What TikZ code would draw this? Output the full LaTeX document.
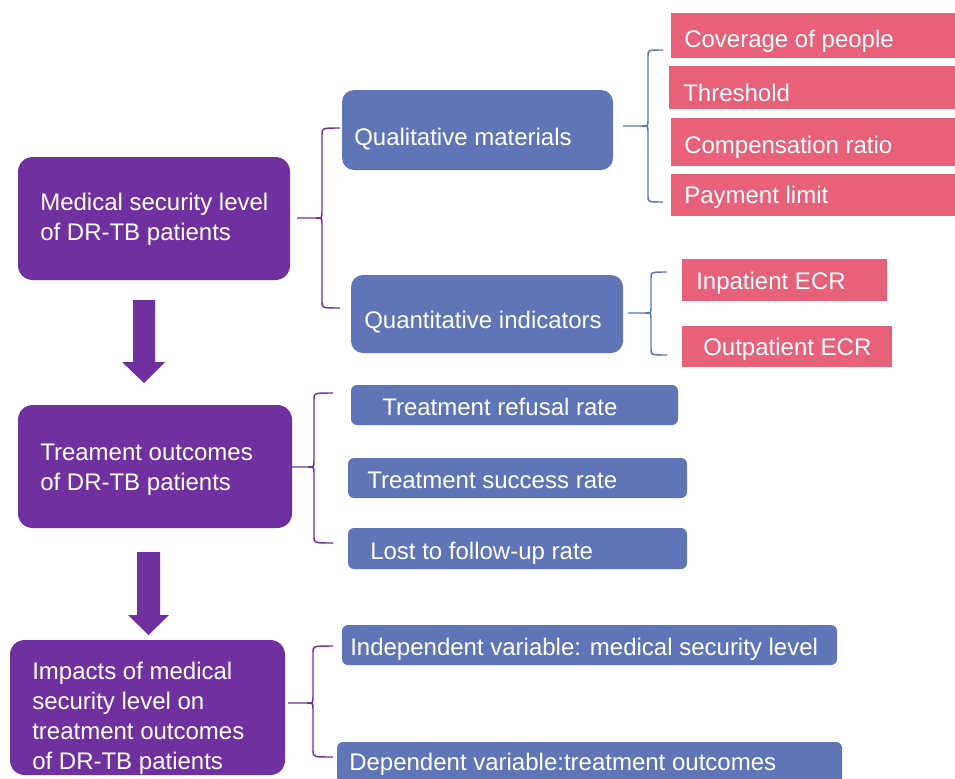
\documentclass[tikz,border=0pt]{standalone}
\usepackage{fontspec}
\setmainfont{Liberation Sans}
\usetikzlibrary{fit}
\definecolor{pur}{HTML}{7030A0}
\definecolor{blu}{HTML}{5F75B7}
\definecolor{red}{HTML}{E9607A}
\tikzset{
  pbox/.style={fill=pur, rounded corners=11pt, inner sep=0pt},
  bboxbig/.style={fill=blu, rounded corners=9pt, inner sep=0pt},
  bboxs/.style={fill=blu, rounded corners=4.5pt, inner sep=0pt},
  rbox/.style={fill=red, inner sep=0pt},
  txt/.style={anchor=west, align=left, inner sep=0pt, text=white, yshift=-1.5pt,
    font=\fontsize{18}{22.5}\selectfont},
  pline/.style={draw=pur, line width=1.1pt},
  bline/.style={draw=blu, line width=1.1pt},
}
\newcommand\bx[6]{\path (#3,#4) coordinate (#1-a) (#5,#6) coordinate (#1-b);
  \node[#2, fit=(#1-a)(#1-b)] (#1) {};}
% brace: style, stem x, vertical x, top, mid, bottom, hook x
\newcommand\brc[7]{%
  \draw[#1] (#2,#5) -- (#3-6,#5) .. controls (#3,#5) .. (#3,#5-6) -- (#3,#4+6) .. controls (#3,#4) .. (#7,#4);
  \draw[#1] (#3-6,#5) .. controls (#3,#5) .. (#3,#5+6) -- (#3,#6-6) .. controls (#3,#6) .. (#7,#6);}
\begin{document}
\begin{tikzpicture}[x=0.75pt,y=-0.75pt]
\clip (0,0) rectangle (955,778);
\fill[white] (0,0) rectangle (955,778);
% purple boxes
\bx{p1}{pbox}{18}{157}{290}{280}
\bx{p2}{pbox}{18}{405}{292}{528}
\bx{p3}{pbox}{10}{640}{285}{775}
\node[txt] (p1t) at (40,217) {Medical security level\\of DR-TB patients};
\node[txt] (p2t) at (40,468) {Treament outcomes\\of DR-TB patients};
\node[txt] (p3t) at (32,716) {Impacts of medical\\security level on\\treatment outcomes\\of DR-TB patients};
% arrows
\fill[pur] (133,300) -- (155,300) -- (155,362) -- (165,362) -- (144,383) -- (122,362) -- (133,362) -- cycle;
\fill[pur] (137,552) -- (160,552) -- (160,615) -- (169,615) -- (148.5,635) -- (128,615) -- (137,615) -- cycle;
% blue boxes
\bx{qual}{bboxbig}{342}{90}{613}{170}
\bx{quant}{bboxbig}{351}{275}{623}{353}
\bx{refu}{bboxs}{351}{385}{678}{425}
\bx{succ}{bboxs}{348}{458}{687}{498}
\bx{lost}{bboxs}{348}{528}{687}{569}
\bx{indep}{bboxs}{342}{625}{837}{665}
\bx{dep}{bboxs}{337}{742}{842}{795}
\node[txt] (qualt) at (354,137) {Qualitative materials};
\node[txt] (quantt) at (364,320) {Quantitative indicators};
\node[txt] (refut) at (382,405) {Treatment refusal rate};
\node[txt] (succt) at (367,478) {Treatment success rate};
\node[txt] (lostt) at (370,551) {Lost to follow-up rate};
\node[txt] (indept) at (350,647) {Independent variable: medical security level};
\node[txt] (dept) at (349,762) {Dependent variable:treatment outcomes};
% red boxes
\bx{cov}{rbox}{671}{13}{965}{58}
\bx{thr}{rbox}{669}{66}{965}{109}
\bx{comp}{rbox}{671}{118}{965}{166}
\bx{pay}{rbox}{671}{174}{965}{216}
\bx{inp}{rbox}{682}{259}{887}{301}
\bx{outp}{rbox}{682}{326}{892}{367}
\node[txt] (covt) at (684,39) {Coverage of people};
\node[txt] (thrt) at (683,91) {Threshold};
\node[txt] (compt) at (684,145) {Compensation ratio};
\node[txt] (payt) at (684,195) {Payment limit};
\node[txt] (inpt) at (696,281) {Inpatient ECR};
\node[txt] (outpt) at (703,347) {Outpatient ECR};
% braces
\brc{pline}{297}{322}{128}{218}{308}{340}
\brc{bline}{623}{648}{50}{126}{202}{663}
\brc{bline}{628}{651}{272}{313}{355}{667}
\brc{pline}{292}{314}{393}{467}{543}{333}
\brc{pline}{288}{313}{646}{703}{757}{333}
\end{tikzpicture}
\end{document}
